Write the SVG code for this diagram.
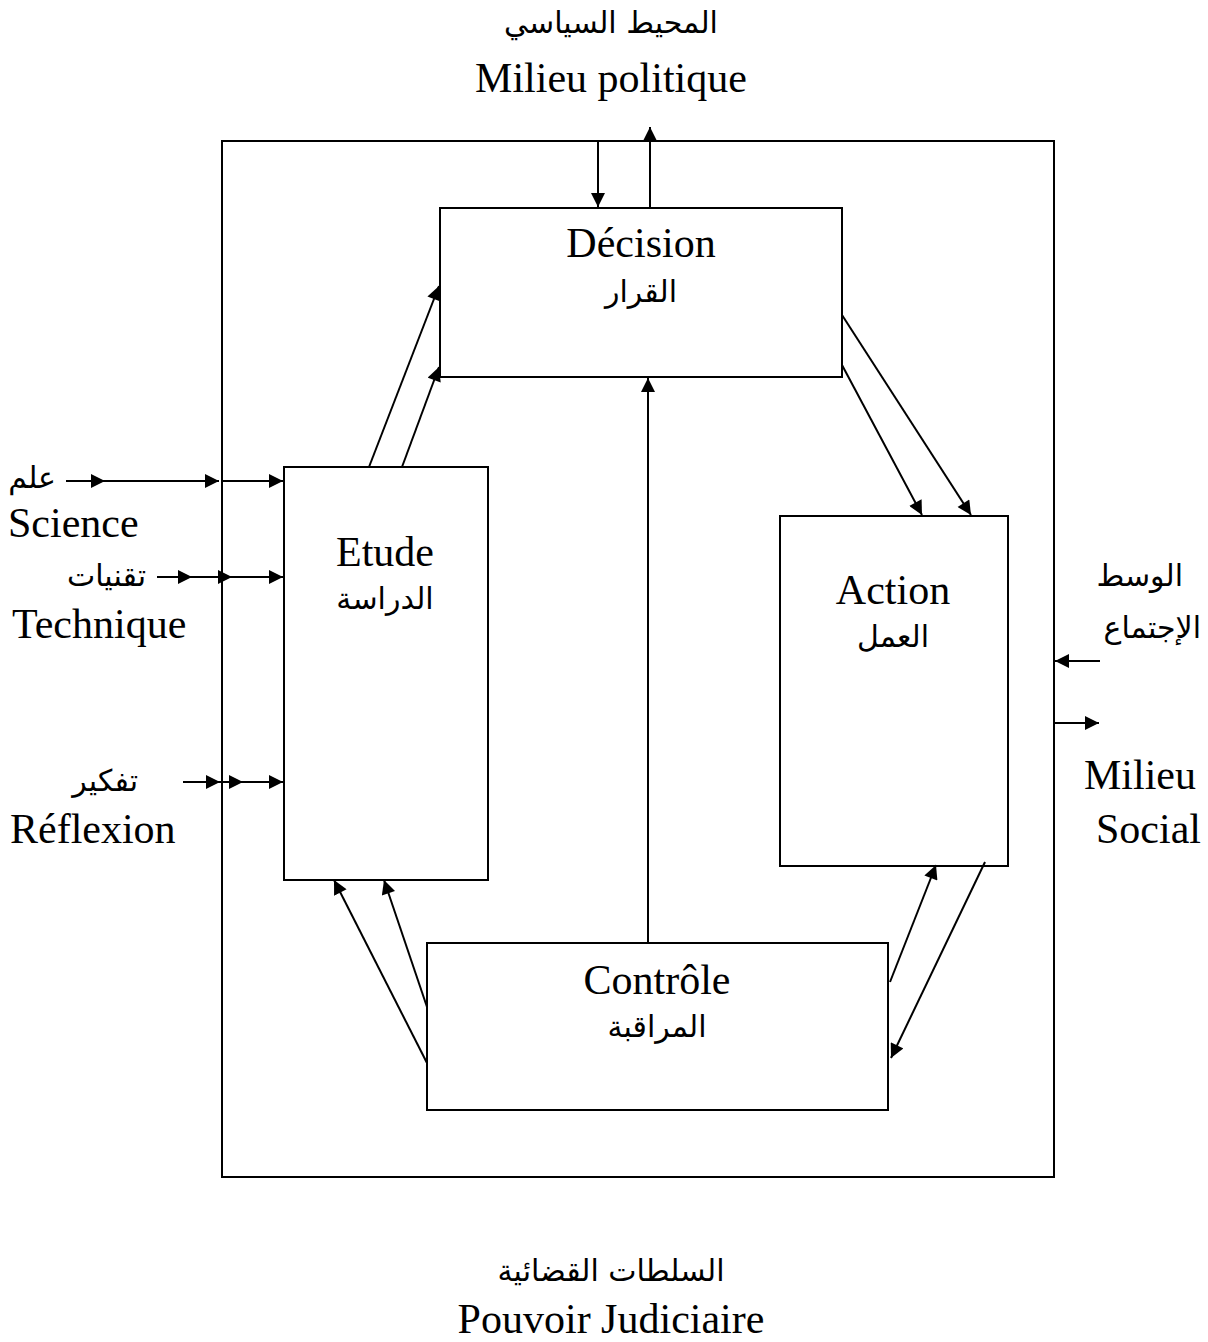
<svg xmlns="http://www.w3.org/2000/svg" width="1208" height="1342" viewBox="0 0 1208 1342">
<style>
.box{fill:#fff;stroke:#000;stroke-width:2}
.ln{fill:none;stroke:#000;stroke-width:2}
.fr{font-family:"Liberation Serif","Times New Roman",serif;font-size:42px;fill:#000}
.ar{font-family:"DejaVu Sans",sans-serif;font-size:30px;fill:#000}
.c{text-anchor:middle}
</style>
<defs>
<marker id="ah" viewBox="0 0 10 10" refX="10" refY="5" markerWidth="15" markerHeight="14" markerUnits="userSpaceOnUse" orient="auto">
<path d="M0,0 L10,5 L0,10 z" fill="#000"/>
</marker>
</defs>
<rect width="1208" height="1342" fill="#fff"/>
<g id="outer"><rect class="box" x="222" y="141" width="832" height="1036"/></g>
<g id="decision"><rect class="box" x="440" y="208" width="402" height="169"/>
<text class="fr c" x="641" y="257">Décision</text><text class="ar c" x="641" y="302" direction="rtl">القرار</text></g>
<g id="etude"><rect class="box" x="284" y="467" width="204" height="413"/>
<text class="fr c" x="385" y="566">Etude</text><text class="ar c" x="385" y="609" direction="rtl">الدراسة</text></g>
<g id="action"><rect class="box" x="780" y="516" width="228" height="350"/>
<text class="fr c" x="893" y="604">Action</text><text class="ar c" x="893" y="647" direction="rtl">العمل</text></g>
<g id="controle"><rect class="box" x="427" y="943" width="461" height="167"/>
<text class="fr c" x="657" y="994">Contrôle</text><text class="ar c" x="657" y="1037" direction="rtl">المراقبة</text></g>
<g id="labels">
<text class="ar c" x="611" y="33" direction="rtl">المحيط السياسي</text>
<text class="fr c" x="611" y="92">Milieu politique</text>
<text class="ar" x="56" y="488" text-anchor="end">علم</text>
<text class="fr" x="8" y="537">Science</text>
<text class="ar" x="146" y="586" text-anchor="end">تقنيات</text>
<text class="fr" x="12" y="638">Technique</text>
<text class="ar" x="138" y="791" text-anchor="end">تفكير</text>
<text class="fr" x="10" y="843">Réflexion</text>
<text class="ar" x="1183" y="586" text-anchor="end">الوسط</text>
<text class="ar" x="1201" y="638" text-anchor="end">الإجتماع</text>
<text class="fr" x="1084" y="789">Milieu</text>
<text class="fr" x="1096" y="843">Social</text>
<text class="ar c" x="611" y="1281" direction="rtl">السلطات القضائية</text>
<text class="fr c" x="611" y="1333">Pouvoir Judiciaire</text>
</g>
<g id="connectors">
<line class="ln" x1="598" y1="141" x2="598" y2="207" marker-end="url(#ah)"/>
<line class="ln" x1="650" y1="208" x2="650" y2="127" marker-end="url(#ah)"/>
<line class="ln" x1="369" y1="467" x2="439" y2="286" marker-end="url(#ah)"/>
<line class="ln" x1="402" y1="467" x2="439" y2="367" marker-end="url(#ah)"/>
<line class="ln" x1="842" y1="315" x2="971" y2="515" marker-end="url(#ah)"/>
<line class="ln" x1="842" y1="365" x2="922" y2="515" marker-end="url(#ah)"/>
<line class="ln" x1="427" y1="1063" x2="334" y2="880" marker-end="url(#ah)"/>
<line class="ln" x1="427" y1="1007" x2="384" y2="880" marker-end="url(#ah)"/>
<line class="ln" x1="890" y1="982" x2="936" y2="865" marker-end="url(#ah)"/>
<line class="ln" x1="985" y1="862" x2="891" y2="1058" marker-end="url(#ah)"/>
<line class="ln" x1="648" y1="943" x2="648" y2="378" marker-end="url(#ah)"/>
<line class="ln" x1="66" y1="481" x2="105" y2="481" marker-end="url(#ah)"/>
<line class="ln" x1="105" y1="481" x2="219" y2="481" marker-end="url(#ah)"/>
<line class="ln" x1="222" y1="481" x2="283" y2="481" marker-end="url(#ah)"/>
<line class="ln" x1="157" y1="577" x2="192" y2="577" marker-end="url(#ah)"/>
<line class="ln" x1="192" y1="577" x2="232" y2="577" marker-end="url(#ah)"/>
<line class="ln" x1="232" y1="577" x2="283" y2="577" marker-end="url(#ah)"/>
<line class="ln" x1="183" y1="782" x2="220" y2="782" marker-end="url(#ah)"/>
<line class="ln" x1="220" y1="782" x2="243" y2="782" marker-end="url(#ah)"/>
<line class="ln" x1="243" y1="782" x2="283" y2="782" marker-end="url(#ah)"/>
<line class="ln" x1="1100" y1="661" x2="1055" y2="661" marker-end="url(#ah)"/>
<line class="ln" x1="1054" y1="723" x2="1099" y2="723" marker-end="url(#ah)"/>
</g>
</svg>
